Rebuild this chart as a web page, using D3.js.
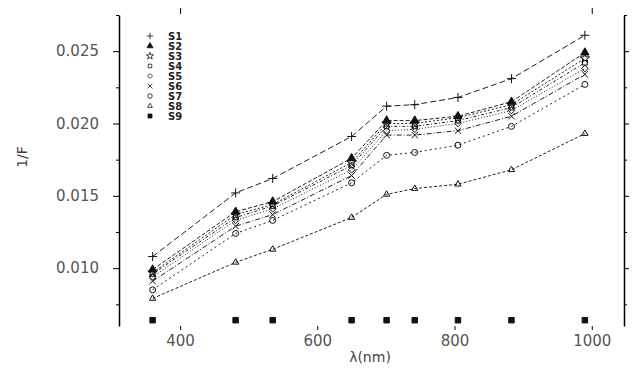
<!DOCTYPE html>
<html><head><meta charset="utf-8">
<script src="https://cdn.jsdelivr.net/npm/d3@7"></script>
<style>body{margin:0;background:#fff}svg{display:block}text{font-family:"DejaVu Sans",sans-serif}</style>
</head><body><svg id="c" width="634" height="374"></svg>
<script>
const wavelengths = [360, 481, 535, 650, 701, 742, 805, 883, 990];
const seriesNames = ["S1", "S2", "S3", "S4", "S5", "S6", "S7", "S8", "S9"];
const s1 = [0.0108, 0.0152, 0.0162, 0.0191, 0.0212, 0.0213, 0.0218, 0.0231, 0.0261];
const s2 = [0.0099, 0.0139, 0.0146, 0.0176, 0.0202, 0.0202, 0.0205, 0.0215, 0.0249];
const s3 = [0.0097, 0.0137, 0.0144, 0.0173, 0.0200, 0.0200, 0.0204, 0.0213, 0.0245];
const s4 = [0.0096, 0.0135, 0.0143, 0.0171, 0.0198, 0.0198, 0.0202, 0.0211, 0.0242];
const s5 = [0.0094, 0.0133, 0.0141, 0.0168, 0.0195, 0.0196, 0.0200, 0.0209, 0.0238];
const s6 = [0.0091, 0.0129, 0.0137, 0.0164, 0.0192, 0.0192, 0.0195, 0.0205, 0.0234];
const s7 = [0.0085, 0.0124, 0.0133, 0.0159, 0.0178, 0.0180, 0.0185, 0.0198, 0.0227];
const s8 = [0.0079, 0.0104, 0.0113, 0.0135, 0.0151, 0.0155, 0.0158, 0.0168, 0.0193];
const s9 = [0.0064, 0.0064, 0.0064, 0.0064, 0.0064, 0.0064, 0.0064, 0.0064, 0.0064];
const yTicks = [0.010, 0.015, 0.020, 0.025];
const yMinorTicks = [0.0075, 0.0125, 0.0175, 0.0225, 0.0275];
const xTicks = [400, 600, 800, 1000];

const allSeries = [s1, s2, s3, s4, s5, s6, s7, s8, s9];
const symbols = [d3.symbolPlus, d3.symbolTriangle, d3.symbolStar, d3.symbolSquare2, d3.symbolDiamond2, d3.symbolTimes, d3.symbolCircle, d3.symbolTriangle2, d3.symbolSquare];
const filled = [false, true, false, false, false, false, false, false, true];
const dashes = ["6,3", "4,2", "2,2", "3,2,1,2", "1,2", "5,2,1,2", "2,3", "3,2", null];

const svg = d3.select("#c");
const x = d3.scaleLinear().domain([311, 1047]).range([119, 624]);
const y = d3.scaleLinear().domain([0.006, 0.0275]).range([326, 15]);

// axes
const gl = svg.append("g").attr("transform", "translate(119,0)");
gl.call(d3.axisLeft(y).tickValues(yTicks).tickFormat(d3.format(".3f")).tickSize(6).tickSizeOuter(0).tickPadding(14));
gl.append("g").call(d3.axisLeft(y).tickValues(yMinorTicks).tickFormat("").tickSize(3).tickSizeOuter(0)).select(".domain").remove();
gl.selectAll("text").attr("font-size", 15).attr("fill", "#555");
gl.selectAll(".domain").attr("stroke-width", 1.5);

const gr = svg.append("g").attr("transform", "translate(624,0)");
gr.call(d3.axisRight(y).tickValues(yTicks).tickFormat("").tickSize(5).tickSizeOuter(0));
gr.append("g").call(d3.axisRight(y).tickValues(yMinorTicks).tickFormat("").tickSize(3).tickSizeOuter(0)).select(".domain").remove();
gr.selectAll(".domain").attr("stroke-width", 1.5);

const gb = svg.append("g").attr("transform", "translate(0,326)");
gb.call(d3.axisBottom(x).tickValues(xTicks).tickFormat(d3.format("d")).tickSize(4).tickPadding(5));
gb.select(".domain").remove();
gb.selectAll("text").attr("font-size", 15).attr("fill", "#555");

const gt = svg.append("g").attr("transform", "translate(0,14)");
gt.call(d3.axisTop(x).tickValues([400, 1000]).tickFormat("").tickSize(6));
gt.select(".domain").remove();

svg.append("text").attr("transform", "translate(27,157) rotate(-90)").attr("text-anchor", "middle")
  .attr("font-size", 14).attr("fill", "#444").text("1/F");
svg.append("text").attr("x", 370).attr("y", 362).attr("text-anchor", "middle")
  .attr("font-size", 14).attr("fill", "#444").text("λ(nm)");

// lines
const line = d3.line().x((d, i) => x(wavelengths[i])).y(d => y(d));
allSeries.forEach((s, k) => {
  if (k < 8) {
    svg.append("path").datum(s).attr("d", line).attr("fill", "none")
      .attr("stroke", "#222").attr("stroke-width", 1).attr("stroke-dasharray", dashes[k]);
  }
  svg.append("g").selectAll("path").data(s).join("path")
    .attr("transform", (d, i) => `translate(${x(wavelengths[i])},${y(d)})`)
    .attr("d", d3.symbol().type(symbols[k]).size(filled[k] ? 30 : 28))
    .attr("fill", filled[k] ? "#111" : "none")
    .attr("stroke", "#111").attr("stroke-width", 1);
});

// legend
const lg = svg.append("g").attr("transform", "translate(150,36)");
seriesNames.forEach((n, k) => {
  const row = lg.append("g").attr("transform", `translate(0,${k * 10})`);
  row.append("path").attr("d", d3.symbol().type(symbols[k]).size(16))
    .attr("fill", filled[k] ? "#111" : "none").attr("stroke", "#111").attr("stroke-width", 0.8);
  row.append("text").attr("x", 18).attr("y", 3.5).attr("font-size", 10).attr("font-weight", "bold")
    .attr("fill", "#222").text(n);
});
</script></body></html>
